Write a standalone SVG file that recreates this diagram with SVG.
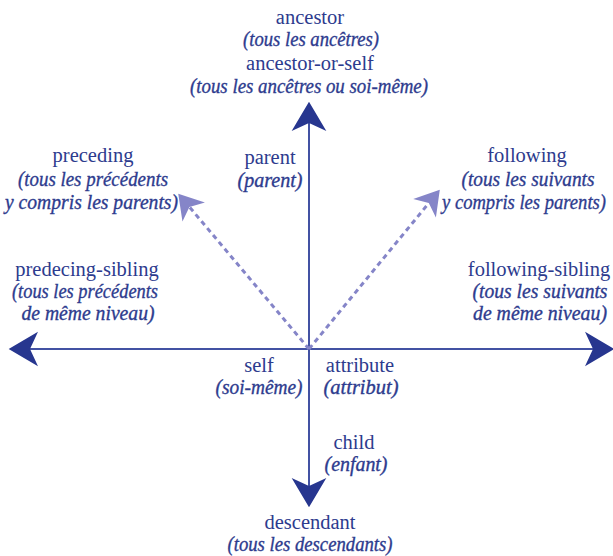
<svg xmlns="http://www.w3.org/2000/svg" width="613" height="556" viewBox="0 0 613 556">
  <defs>
    <style>
      text { fill: #2d3b8e; text-anchor: middle; font-size: 20.5px; }
      .i { font-style: italic; stroke: #2d3b8e; stroke-width: 0.35; }
      .axis { stroke: #4352a3; stroke-width: 2; fill: none; }
      .dash { stroke: #8585c8; stroke-width: 3; stroke-dasharray: 5 4; fill: none; }
    </style>
    <marker id="head" markerUnits="userSpaceOnUse" orient="auto" refX="0" refY="0" markerWidth="40" markerHeight="40" viewBox="-10 -15 30 30" overflow="visible">
      <path d="M16,0 L-6,-13 L0,0 L-6,13 Z" fill="#27368f"/>
    </marker>
    <marker id="head-light" markerUnits="userSpaceOnUse" orient="auto" refX="0" refY="0" markerWidth="40" markerHeight="40" viewBox="-10 -15 30 30" overflow="visible">
      <path d="M13,0 L-5,-11 L0,0 L-5,11 Z" fill="#8585c8"/>
    </marker>
  </defs>

  <rect width="613" height="556" fill="#ffffff"/>

  <g id="connectors">
    <line class="axis" x1="309" y1="349" x2="309" y2="123" marker-end="url(#head)"/>
    <line class="axis" x1="309" y1="349" x2="309" y2="486" marker-end="url(#head)"/>
    <line class="axis" x1="309" y1="349" x2="30" y2="349" marker-end="url(#head)"/>
    <line class="axis" x1="309" y1="349" x2="593" y2="349" marker-end="url(#head)"/>
    <line class="dash" x1="309" y1="349" x2="189.4" y2="206.9" marker-end="url(#head-light)"/>
    <line class="dash" x1="309" y1="349" x2="428.8" y2="203.1" marker-end="url(#head-light)"/>
  </g>

  <g font-family="Liberation Serif">
  <g id="ancestor">
    <text x="310" y="24">ancestor</text>
    <text class="i" x="311" y="46" textLength="136" lengthAdjust="spacingAndGlyphs">(tous les ancêtres)</text>
    <text x="310" y="70">ancestor-or-self</text>
    <text class="i" x="309" y="93" textLength="238" lengthAdjust="spacingAndGlyphs">(tous les ancêtres ou soi-même)</text>
  </g>

  <g id="parent">
    <text x="270" y="164">parent</text>
    <text class="i" x="270" y="187" textLength="65" lengthAdjust="spacingAndGlyphs">(parent)</text>
  </g>

  <g id="preceding">
    <text x="93" y="162">preceding</text>
    <text class="i" x="93" y="186" textLength="150" lengthAdjust="spacingAndGlyphs">(tous les précédents</text>
    <text class="i" x="91.5" y="209" textLength="173" lengthAdjust="spacingAndGlyphs">y compris les parents)</text>
  </g>

  <g id="following">
    <text x="527" y="162">following</text>
    <text class="i" x="528" y="186" textLength="133" lengthAdjust="spacingAndGlyphs">(tous les suivants</text>
    <text class="i" x="524" y="209" textLength="164" lengthAdjust="spacingAndGlyphs">y compris les parents)</text>
  </g>

  <g id="preceding-sibling">
    <text x="87" y="276">predecing-sibling</text>
    <text class="i" x="85" y="298" textLength="146" lengthAdjust="spacingAndGlyphs">(tous les précédents</text>
    <text class="i" x="88" y="320" textLength="133" lengthAdjust="spacingAndGlyphs">de même niveau)</text>
  </g>

  <g id="following-sibling">
    <text x="539" y="276">following-sibling</text>
    <text class="i" x="540" y="298" textLength="135" lengthAdjust="spacingAndGlyphs">(tous les suivants</text>
    <text class="i" x="540" y="320" textLength="134" lengthAdjust="spacingAndGlyphs">de même niveau)</text>
  </g>

  <g id="self">
    <text x="259" y="372">self</text>
    <text class="i" x="259" y="394" textLength="87" lengthAdjust="spacingAndGlyphs">(soi-même)</text>
  </g>

  <g id="attribute">
    <text x="360" y="372">attribute</text>
    <text class="i" x="361" y="394" textLength="75" lengthAdjust="spacingAndGlyphs">(attribut)</text>
  </g>

  <g id="child">
    <text x="354" y="449">child</text>
    <text class="i" x="356" y="471" textLength="63" lengthAdjust="spacingAndGlyphs">(enfant)</text>
  </g>

  <g id="descendant">
    <text x="310" y="529">descendant</text>
    <text class="i" x="310" y="551" textLength="165" lengthAdjust="spacingAndGlyphs">(tous les descendants)</text>
  </g>
  </g>
</svg>
